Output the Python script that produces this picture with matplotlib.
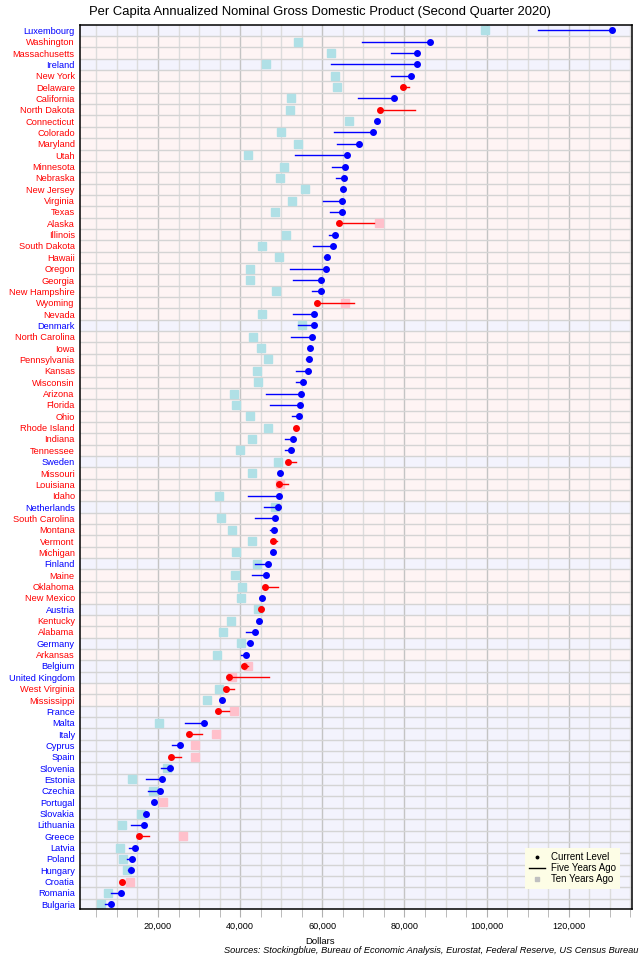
import matplotlib
matplotlib.use('Agg')
from matplotlib import pyplot as plt
from matplotlib.lines import Line2D
from matplotlib.ticker import MultipleLocator, FuncFormatter

plt.rcParams['font.family'] = ['Liberation Sans', 'DejaVu Sans']

#row names from top to bottom
names = ['Luxembourg', 'Washington', 'Massachusetts', 'Ireland', 'New York', 'Delaware',
         'California', 'North Dakota', 'Connecticut', 'Colorado', 'Maryland', 'Utah',
         'Minnesota', 'Nebraska', 'New Jersey', 'Virginia', 'Texas', 'Alaska', 'Illinois',
         'South Dakota', 'Hawaii', 'Oregon', 'Georgia', 'New Hampshire', 'Wyoming', 'Nevada',
         'Denmark', 'North Carolina', 'Iowa', 'Pennsylvania', 'Kansas', 'Wisconsin', 'Arizona',
         'Florida', 'Ohio', 'Rhode Island', 'Indiana', 'Tennessee', 'Sweden', 'Missouri',
         'Louisiana', 'Idaho', 'Netherlands', 'South Carolina', 'Montana', 'Vermont', 'Michigan',
         'Finland', 'Maine', 'Oklahoma', 'New Mexico', 'Austria', 'Kentucky', 'Alabama',
         'Germany', 'Arkansas', 'Belgium', 'United Kingdom', 'West Virginia', 'Mississippi',
         'France', 'Malta', 'Italy', 'Cyprus', 'Spain', 'Slovenia', 'Estonia', 'Czechia',
         'Portugal', 'Slovakia', 'Lithuania', 'Greece', 'Latvia', 'Poland', 'Hungary',
         'Croatia', 'Romania', 'Bulgaria']

#european countries, everything else is a us state
europe = ['Luxembourg', 'Ireland', 'Denmark', 'Sweden', 'Netherlands', 'Finland', 'Austria',
          'Germany', 'Belgium', 'United Kingdom', 'France', 'Malta', 'Italy', 'Cyprus', 'Spain',
          'Slovenia', 'Estonia', 'Czechia', 'Portugal', 'Slovakia', 'Lithuania', 'Greece',
          'Latvia', 'Poland', 'Hungary', 'Croatia', 'Romania', 'Bulgaria']

#values in thousands of dollars
current = [130.6, 86.2, 83.1, 83.0, 81.7, 79.6, 77.4, 74.0, 73.3, 72.3, 68.9, 66.1,
           65.6, 65.3, 65.1, 64.9, 64.7, 64.1, 63.0, 62.5, 61.1, 60.9, 59.8, 59.8, 58.8, 57.9,
           57.9, 57.4, 57.1, 56.8, 56.4, 55.2, 54.7, 54.5, 54.3, 53.6, 52.9, 52.5, 51.6, 49.8,
           49.5, 49.4, 49.3, 48.4, 48.2, 48.1, 47.9, 46.8, 46.3, 46.0, 45.2, 45.0, 44.6, 43.5,
           42.5, 41.5, 40.9, 37.3, 36.5, 35.6, 34.6, 31.2, 27.5, 25.4, 23.2, 22.9, 21.1, 20.5,
           19.1, 17.0, 16.7, 15.4, 14.5, 13.8, 13.5, 11.3, 11.1, 8.5]

five_years = [112.6, 69.7, 76.6, 62.1, 76.6, 81.0, 68.6, 82.6, 73.0, 62.9, 63.6, 53.4,
              62.4, 63.3, 64.8, 60.2, 61.8, 72.5, 61.6, 57.8, 60.3, 52.2, 52.9, 57.4, 67.7, 52.9,
              54.1, 52.4, 56.9, 56.1, 53.7, 53.7, 46.4, 47.3, 52.7, 53.8, 50.8, 50.8, 53.7, 49.6,
              51.7, 41.8, 45.7, 43.6, 47.3, 48.9, 47.7, 43.6, 43.0, 49.1, 44.9, 45.4, 44.4, 41.4,
              41.7, 40.2, 41.9, 47.1, 38.6, 35.4, 37.4, 26.6, 30.8, 23.5, 25.5, 20.8, 17.1, 17.5,
              18.9, 16.5, 13.4, 17.7, 13.0, 12.5, 12.7, 11.5, 8.6, 7.1]

ten_years = [99.5, 54.1, 62.1, 46.2, 63.1, 63.5, 52.3, 52.1, 66.5, 50.0, 54.1, 41.9,
             50.6, 49.8, 55.9, 52.6, 48.6, 73.7, 51.1, 45.3, 49.5, 42.3, 42.4, 48.8, 65.5, 45.4,
             55.1, 43.2, 45.0, 46.7, 44.1, 44.3, 38.5, 39.0, 42.4, 46.7, 43.0, 39.9, 49.1, 42.8,
             49.7, 34.8, 48.6, 35.3, 38.0, 43.0, 38.9, 44.1, 38.7, 40.4, 40.1, 44.3, 37.7, 35.9,
             40.1, 34.3, 41.8, 37.9, 34.8, 32.0, 38.6, 20.2, 34.2, 29.0, 29.0, 22.3, 13.7, 18.7,
             21.2, 15.8, 11.2, 26.0, 10.7, 11.6, 12.5, 13.2, 7.8, 6.2]

n = len(names)

fig = plt.figure(figsize=(6.4, 9.6), dpi=100)
ax = fig.add_axes([0.1255, 0.0528, 0.8615, 0.9208])

for i, name in enumerate(names):
    cur = current[i] * 1000
    five = five_years[i] * 1000
    ten = ten_years[i] * 1000

    #row background
    bg = '#f3f3fd' if name in europe else '#fef4f4'
    ax.axhspan(i - 0.5, i + 0.5, color=bg, zorder=0, lw=0)

    #ten years ago square, pink when it was higher than today
    sq = '#b0e0e6' if ten <= cur else '#ffc0cb'
    ax.plot(ten, i, 's', color=sq, markersize=5.6, zorder=2)

    #five years ago line and current dot
    col = 'blue' if cur >= five else 'red'
    ax.plot([five, cur], [i, i], '-', color=col, lw=1, zorder=3)
    ax.plot(cur, i, 'o', color=col, markersize=4, zorder=4)

#grid lines
ax.xaxis.set_major_locator(MultipleLocator(20000))
ax.xaxis.set_minor_locator(MultipleLocator(5000))
ax.xaxis.set_major_formatter(FuncFormatter(lambda v, p: f'{int(v):,}'))
ax.grid(True, which='minor', axis='x', color='#dcdcdc', lw=1, zorder=1)
ax.grid(True, which='major', axis='x', color='#c4c4c4', lw=1, zorder=1)
for i in range(n - 1):
    ax.axhline(i + 0.5, color='#d4d4d4', lw=1, zorder=1)
ax.set_axisbelow(True)

ax.set_xlim(1100, 135300)
ax.set_ylim(n - 0.56, -0.44)

ax.set_yticks(range(n))
ax.set_yticklabels(names)
for lbl, name in zip(ax.get_yticklabels(), names):
    lbl.set_color('blue' if name in europe else 'red')
ax.tick_params(axis='y', length=0, pad=4, labelsize=6.7)
ax.tick_params(axis='x', which='both', length=6, color='#b0b0b0', labelsize=6.6, pad=3)

for s in ax.spines.values():
    s.set_linewidth(1.1)

#legend
handles = [Line2D([], [], marker='o', color='black', linestyle='none', markersize=1.8),
           Line2D([], [], color='black', lw=1),
           Line2D([], [], marker='s', color='#c0c0c0', linestyle='none', markersize=2.5)]
leg = ax.legend(handles, ['Current Level', 'Five Years Ago', 'Ten Years Ago'],
                loc='lower right', bbox_to_anchor=(0.988, 0.018), fontsize=7,
                frameon=True, fancybox=False, handlelength=1.6, handletextpad=0.6,
                labelspacing=0.1, borderpad=0.45)
leg.get_frame().set_facecolor('#fdfde6')
leg.get_frame().set_edgecolor('none')
leg.get_frame().set_alpha(1)

fig.text(0.5, 0.9875, 'Per Capita Annualized Nominal Gross Domestic Product (Second Quarter 2020)',
         ha='center', va='center', fontsize=9.4)
fig.text(0.5, 0.019, 'Dollars', ha='center', va='center', fontsize=6.8)
fig.text(0.998, 0.0094, 'Sources: Stockingblue, Bureau of Economic Analysis, Eurostat, Federal Reserve, US Census Bureau',
         ha='right', va='center', fontsize=6.7, style='italic')

fig.savefig('out.png', dpi=100)
